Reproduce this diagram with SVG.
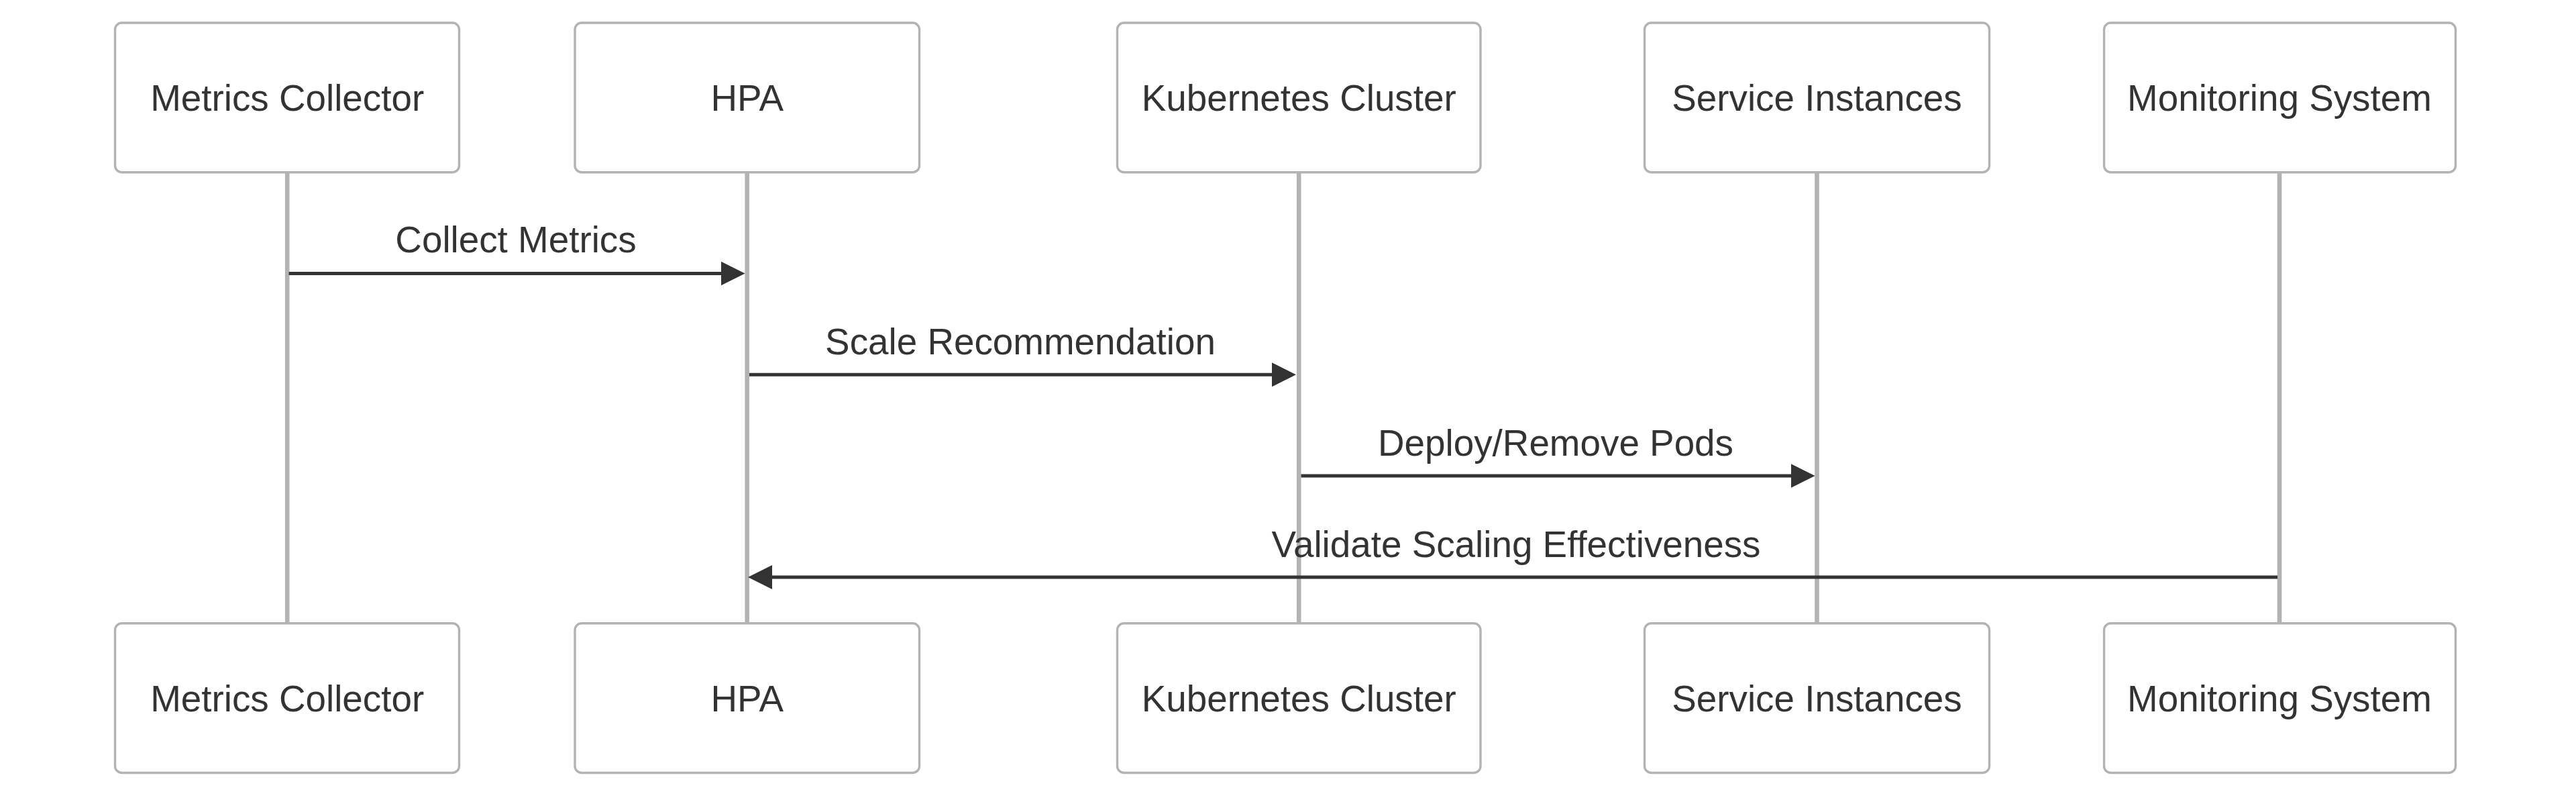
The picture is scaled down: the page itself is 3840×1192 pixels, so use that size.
<svg xmlns="http://www.w3.org/2000/svg" width="3840" height="1192" viewBox="0 0 3840 1192">
<style>
.actor{fill:#ffffff;stroke:#b3b3b3;stroke-width:3.4}
.life{stroke:#b3b3b3;stroke-width:6.6}
.msg{stroke:#333333;stroke-width:5;fill:none}
.lbl{font-family:"Liberation Sans",Arial,Helvetica,sans-serif;font-size:54.8px;fill:#333333;text-anchor:middle}
</style>
<defs>
<marker id="arrowhead" viewBox="0 0 10 10" refX="7.9" refY="5" markerUnits="userSpaceOnUse" markerWidth="36" markerHeight="36" orient="auto">
<path d="M 0 0 L 10 5 L 0 10 z" fill="#333333"/>
</marker>
</defs>
<rect width="3840" height="1192" fill="#ffffff"/>
<g id="lifelines">
<line class="life" x1="428.2" y1="257" x2="428.2" y2="928"/>
<line class="life" x1="1113.7" y1="257" x2="1113.7" y2="928"/>
<line class="life" x1="1936.2" y1="257" x2="1936.2" y2="928"/>
<line class="life" x1="2708.5" y1="257" x2="2708.5" y2="928"/>
<line class="life" x1="3398" y1="257" x2="3398" y2="928"/>
</g>
<g id="actor-metrics-collector">
<rect class="actor" x="171.5" y="34" width="513" height="222.7" rx="10" ry="10"/>
<text class="lbl" x="428.2" y="165">Metrics Collector</text>
<rect class="actor" x="171.5" y="928.8" width="513" height="222.7" rx="10" ry="10"/>
<text class="lbl" x="428.2" y="1059.5">Metrics Collector</text>
</g>
<g id="actor-hpa">
<rect class="actor" x="857" y="34" width="513.5" height="222.7" rx="10" ry="10"/>
<text class="lbl" x="1113.7" y="165">HPA</text>
<rect class="actor" x="857" y="928.8" width="513.5" height="222.7" rx="10" ry="10"/>
<text class="lbl" x="1113.7" y="1059.5">HPA</text>
</g>
<g id="actor-kubernetes-cluster">
<rect class="actor" x="1665.5" y="34" width="541.5" height="222.7" rx="10" ry="10"/>
<text class="lbl" x="1936.2" y="165">Kubernetes Cluster</text>
<rect class="actor" x="1665.5" y="928.8" width="541.5" height="222.7" rx="10" ry="10"/>
<text class="lbl" x="1936.2" y="1059.5">Kubernetes Cluster</text>
</g>
<g id="actor-service-instances">
<rect class="actor" x="2451.5" y="34" width="514" height="222.7" rx="10" ry="10"/>
<text class="lbl" x="2708.5" y="165">Service Instances</text>
<rect class="actor" x="2451.5" y="928.8" width="514" height="222.7" rx="10" ry="10"/>
<text class="lbl" x="2708.5" y="1059.5">Service Instances</text>
</g>
<g id="actor-monitoring-system">
<rect class="actor" x="3136.5" y="34" width="524" height="222.7" rx="10" ry="10"/>
<text class="lbl" x="3398" y="165">Monitoring System</text>
<rect class="actor" x="3136.5" y="928.8" width="524" height="222.7" rx="10" ry="10"/>
<text class="lbl" x="3398" y="1059.5">Monitoring System</text>
</g>
<g id="connectors">
<line class="msg" x1="430.6" y1="407.5" x2="1103" y2="407.5" marker-end="url(#arrowhead)"/>
<text class="lbl" x="769" y="376">Collect Metrics</text>
<line class="msg" x1="1117" y1="558.3" x2="1924.4" y2="558.3" marker-end="url(#arrowhead)"/>
<text class="lbl" x="1521" y="527.7">Scale Recommendation</text>
<line class="msg" x1="1939.5" y1="709" x2="2698" y2="709" marker-end="url(#arrowhead)"/>
<text class="lbl" x="2319" y="679">Deploy/Remove Pods</text>
<line class="msg" x1="3395" y1="860" x2="1122.6" y2="860" marker-end="url(#arrowhead)"/>
<text class="lbl" x="2260" y="830">Validate Scaling Effectiveness</text>
</g>
</svg>
